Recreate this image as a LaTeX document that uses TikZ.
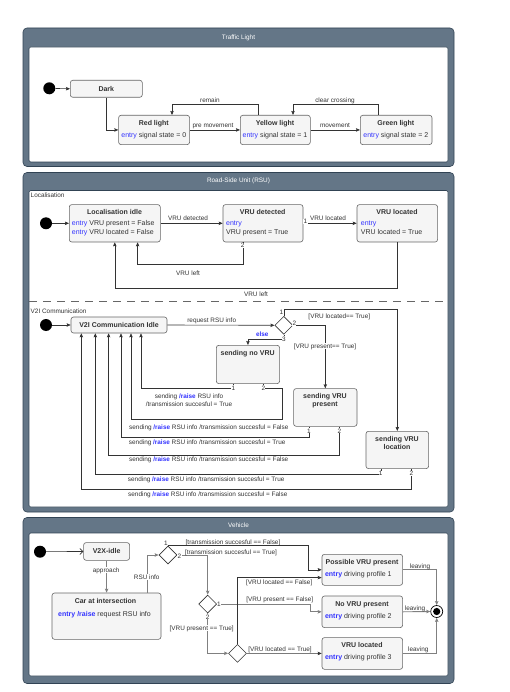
\documentclass[tikz,border=0pt]{standalone}
\usepackage{fontspec}
\setmainfont{Liberation Sans}
\usetikzlibrary{arrows.meta,shapes.geometric}
\definecolor{panel}{HTML}{647687}
\definecolor{panelline}{HTML}{314354}
\definecolor{boxfill}{HTML}{F5F5F5}
\definecolor{boxline}{HTML}{666666}
\definecolor{txtc}{HTML}{333333}
\definecolor{kwblue}{HTML}{3333FF}
\definecolor{lnc}{HTML}{333333}
\definecolor{lng}{HTML}{808080}
\newcommand\kwd[1]{\textcolor{kwblue}{#1}}
\newcommand\kwb[1]{\textcolor{kwblue}{\bfseries #1}}
\begin{document}
\begin{tikzpicture}[x=1pt,y=-1pt,
  stbox/.style={draw=boxline, fill=boxfill, rounded corners=2.5pt, line width=0.6pt, inner sep=0pt, anchor=north west},
  ttl/.style={font=\fontsize{7}{8}\selectfont\bfseries, text=txtc, inner sep=0pt, text height=5pt, text depth=0pt},
  body/.style={font=\fontsize{7}{8}\selectfont, text=txtc, inner sep=0pt, text height=5pt, text depth=0pt},
  lbl/.style={font=\fontsize{6.4}{7}\selectfont, text=txtc, inner sep=0pt, text height=4.6pt, text depth=0pt},
  wlbl/.style={lbl, fill=white, inner sep=0.6pt},
  port/.style={lbl, fill=white, inner sep=0.4pt},
  ptitle/.style={font=\fontsize{6.4}{7}\selectfont, text=white, inner sep=0pt, text height=4.6pt, text depth=0pt},
  conn/.style={draw=lnc, line width=0.6pt, -{Stealth[length=4pt,width=3.4pt,inset=0.6pt]}},
  gconn/.style={conn, draw=lng, line width=0.9pt},
  oconn/.style={draw=lnc, line width=0.6pt, -{Straight Barb[length=3pt,width=6pt]}},
  initst/.style={circle, fill=black, minimum size=12pt, inner sep=0pt},
  dmd/.style={diamond, draw=lnc, fill=white, line width=0.6pt, minimum width=18pt, minimum height=18pt, inner sep=0pt},
  finst/.style={circle, draw=black, fill=white, line width=0.7pt, minimum size=12pt, inner sep=0pt,
    path picture={\fill[black] (path picture bounding box.center) circle (3.6pt);}},
  outerp/.style={fill=panel, draw=panelline, line width=0.6pt, rounded corners=4pt},
  innerp/.style={fill=white, draw=panelline, line width=0.6pt, rounded corners=1.5pt},
  dashline/.style={draw=boxline, line width=0.7pt, dash pattern=on 8pt off 6pt}
]
\useasboundingbox (0,0) rectangle (509,692);
\fill[white] (0,0) rectangle (509,692);

% ================= Traffic Light =================
\draw[outerp] (23,28) rectangle (454,166.5);
\draw[innerp] (29,47) rectangle (448,162);
\node[ptitle] (tlt) at (238.5,37) {Traffic Light};
\node[initst] (i1) at (49.3,88.3) {};
\node[stbox, minimum width=72pt, minimum height=17pt] (dark) at (70,80) {};
\node[ttl] (darkt) at (dark.center) {Dark};
\node[stbox, minimum width=71pt, minimum height=29.3pt] (red) at (118.3,115) {};
\node[ttl] (redt) at (153.8,123.3) {Red light};
\node[body] (rede) at (153.8,135) {\kwd{entry} signal state = 0};
\node[stbox, minimum width=70pt, minimum height=29.3pt] (yel) at (240,115) {};
\node[ttl] (yelt) at (275,123.3) {Yellow light};
\node[body] (yele) at (275,135) {\kwd{entry} signal state = 1};
\node[stbox, minimum width=71.7pt, minimum height=29.3pt] (grn) at (360,115) {};
\node[ttl] (grnt) at (395.85,123.3) {Green light};
\node[body] (grne) at (395.85,135) {\kwd{entry} signal state = 2};

\draw[conn] (i1) -- (dark.west);
\draw[conn] (dark.south) |- (red.west);
\draw[conn] (red.east) -- (yel.west);
\draw[conn] (yel.east) -- (grn.west);
\draw[conn] ([xshift=-17.3pt]yel.north) -- ++(0,-11) -| ([xshift=17.9pt]red.north);
\draw[conn] ([xshift=-17.55pt]grn.north) -- ++(0,-11) -| ([xshift=17.7pt]yel.north);
\node[lbl] (lpm) at (213,125) {pre movement};
\node[lbl] (lmv) at (335,125) {movement};
\node[lbl] (lrm) at (210,100.5) {remain};
\node[lbl] (lcc) at (335,100.5) {clear crossing};

% ================= RSU =================
\draw[outerp] (23,172.5) rectangle (454,512);
\draw[innerp] (29,190.5) rectangle (448,507);
\node[ptitle] (rsut) at (238.5,180.5) {Road-Side Unit (RSU)};
\node[lbl, anchor=west] (loct) at (30.5,195.7) {Localisation};
\node[initst] (i2) at (46,223.3) {};
\node[stbox, minimum width=91pt, minimum height=37.4pt] (li) at (69,204.3) {};
\node[ttl] (lit) at (114.5,211.7) {Localisation idle};
\node[body, anchor=west] (lie1) at (71.7,222.7) {\kwd{entry} VRU present = False};
\node[body, anchor=west] (lie2) at (71.7,231.7) {\kwd{entry} VRU located = False};
\node[stbox, minimum width=80pt, minimum height=37.4pt] (vd) at (222.7,204.3) {};
\node[ttl] (vdt) at (262.7,211.7) {VRU detected};
\node[body, anchor=west] (vde1) at (226,222.7) {\kwd{entry}};
\node[body, anchor=west] (vde2) at (226,231.7) {VRU present = True};
\node[stbox, minimum width=80.6pt, minimum height=37.4pt] (vl) at (356.7,204.3) {};
\node[ttl] (vlt) at (397,211.7) {VRU located};
\node[body, anchor=west] (vle1) at (360.7,222.7) {\kwd{entry}};
\node[body, anchor=west] (vle2) at (360.7,231.7) {VRU located = True};

\draw[conn] (i2) -- (li.west);
\draw[conn] (li.east) -- (vd.west);
\draw[conn] (vd.east) -- (vl.west);
\draw[conn] ([xshift=-20pt]vd.south) -- ++(0,22.3) -| ([xshift=22.8pt]li.south);
\draw[conn] (vl.south) -- ++(0,45.6) -| (li.south);
\node[lbl] (lvdet) at (188,218.3) {VRU detected};
\node[lbl] (lvloc) at (328,218.3) {VRU located};
\node[port] (p1vd) at (305.5,221.5) {1};
\node[port] (p2vd) at (242.7,245.5) {2};
\node[lbl] (lvl1) at (188,273.3) {VRU left};
\node[lbl] (lvl2) at (256,294) {VRU left};

\draw[dashline] (29,301.7) -- (448,301.7);

% V2I
\node[lbl, anchor=west] (v2it) at (30.5,310.7) {V2I Communication};
\node[initst] (i3) at (46,325) {};
\node[stbox, minimum width=96pt, minimum height=16pt] (idle) at (70.7,316.7) {};
\node[ttl] (idlet) at (idle.center) {V2I Communication Idle};
\node[dmd] (dia) at (283.8,325.3) {};
\node[stbox, minimum width=63.3pt, minimum height=38.3pt] (snv) at (216,345) {};
\node[ttl] (snvt) at (247.65,353.3) {sending no VRU};
\node[stbox, minimum width=63.4pt, minimum height=37.7pt] (svp) at (293.3,388.3) {};
\node[ttl] (svpt1) at (325,396) {sending VRU};
\node[ttl] (svpt2) at (325,404.3) {present};
\node[stbox, minimum width=62.6pt, minimum height=37.3pt] (svl) at (365.7,431) {};
\node[ttl] (svlt1) at (397,439) {sending VRU};
\node[ttl] (svlt2) at (397,447.3) {location};

\draw[conn] (i3) -- (idle.west);
\draw[conn] (idle.east) -- (dia.west);
\draw[conn] (dia.north) -- ++(0,-6.3) -| (svl.north);
\draw[conn] (dia.east) -| (svp.north);
\draw[conn] (dia.south) -- ++(0,5) -| (snv.north);
\draw[conn] ([xshift=-14.35pt]snv.south) -- ++(0,4.4) -| ([xshift=22pt]idle.south);
\draw[conn] ([xshift=15.65pt]snv.south) -- ++(0,4.4) -- ++(18.4,0) -- ++(0,31.3) -| ([xshift=12pt]idle.south);
\draw[conn] ([xshift=-16pt]svp.south) -- ++(0,10.7) -| ([xshift=2pt]idle.south);
\draw[conn] ([xshift=14.3pt]svp.south) -- ++(0,28.3) -| ([xshift=-10.4pt]idle.south);
\draw[conn] ([xshift=-16.3pt]svl.south) -- ++(0,5) -| ([xshift=-23.7pt]idle.south);
\draw[conn] ([xshift=14.3pt]svl.south) -- ++(0,20.7) -| ([xshift=-37.7pt]idle.south);

\node[port] (pd1) at (281.3,311.7) {1};
\node[port] (pd2) at (294.3,323.6) {2};
\node[port] (pd3) at (283.8,339) {3};
\node[port] (ps1) at (233.3,387.7) {1};
\node[port] (ps2) at (263.3,387.7) {2};
\node[port] (pp1) at (309,430.7) {1};
\node[port] (pp2) at (339.3,430.7) {2};
\node[port] (pl1) at (380.7,473.3) {1};
\node[port] (pl2) at (411.3,473.3) {2};

\node[lbl] (lreq) at (211.7,320) {request RSU info};
\node[lbl] (lloc) at (339.3,315.7) {[VRU located== True]};
\node[wlbl] (lpres) at (325,345.7) {[VRU present== True]};
\node[lbl] (lelse) at (262.3,334.3) {\kwb{else}};
\node[lbl] (ls1a) at (189,395.7) {sending \kwb{/raise} RSU info};
\node[lbl] (ls1b) at (189,404.3) {/transmission succesful = True};
\node[lbl] (ls2) at (208.8,426.7) {sending \kwb{/raise} RSU info /transmission succesful = False};
\node[lbl] (lp1) at (207.2,441.7) {sending \kwb{/raise} RSU info /transmission succesful = True};
\node[lbl] (lp2) at (208.7,459) {sending \kwb{/raise} RSU info /transmission succesful = False};
\node[lbl] (ll1) at (206.2,479) {sending \kwb{/raise} RSU info /transmission succesful = True};
\node[lbl] (ll2) at (207.8,494) {sending \kwb{/raise} RSU info /transmission succesful = False};

% ================= Vehicle =================
\draw[outerp] (23,517.5) rectangle (454,683.5);
\draw[innerp] (29,533) rectangle (448,676);
\node[ptitle] (veht) at (238.5,525.5) {Vehicle};
\node[initst] (i4) at (40,551.7) {};
\node[stbox, minimum width=46pt, minimum height=17.7pt] (v2x) at (83.3,542.3) {};
\node[ttl] (v2xt) at (v2x.center) {V2X-idle};
\node[stbox, minimum width=109pt, minimum height=46.3pt] (car) at (51.7,592.7) {};
\node[ttl] (cart) at (105.5,600.7) {Car at intersection};
\node[body] (care) at (104.5,614.3) {\kwb{entry /raise} request RSU info};
\node[dmd] (d1) at (168,555) {};
\node[dmd] (d2) at (207.7,604) {};
\node[dmd] (d3) at (237.5,653.3) {};
\node[stbox, minimum width=80.6pt, minimum height=31pt] (pvp) at (321.7,554) {};
\node[ttl] (pvpt) at (362,561.7) {Possible VRU present};
\node[body] (pvpe) at (358.3,574.3) {\kwb{entry} driving profile 1};
\node[stbox, minimum width=80.6pt, minimum height=31.6pt] (nvp) at (321.7,595.7) {};
\node[ttl] (nvpt) at (362,603.7) {No VRU present};
\node[body] (nvpe) at (358.3,616) {\kwb{entry} driving profile 2};
\node[stbox, minimum width=80.6pt, minimum height=31.7pt] (vlv) at (321.7,637.3) {};
\node[ttl] (vlvt) at (362,645) {VRU located};
\node[body] (vlve) at (358.3,657.3) {\kwb{entry} driving profile 3};
\node[finst] (fin) at (436.7,611.5) {};

\draw[oconn] (i4) -- (v2x.west);
\draw[gconn] (v2x.south) -- (v2x.south |- car.north);
\draw[gconn] ([xshift=40.5pt]car.north) |- (d1.west);
\draw[conn] (d1.north) -- ++(140.3,0) |- (pvp.west);
\draw[gconn] (d1.east) -| (d2.north);
\draw[gconn] (d2.east) -- ++(93.3,0) |- (nvp.west);
\draw[gconn] (d2.south) |- (d3.west);
\draw[conn] (d3.north) |- ([yshift=-7.8pt]pvp.west);
\draw[conn] (d3.east) -- (vlv.west);
\draw[gconn] (pvp.east) -| (fin.north);
\draw[gconn] (nvp.east) -- (fin.west);
\draw[gconn] (vlv.east) -| (fin.south);

\node[wlbl] (lapp) at (106.2,570) {approach};
\node[wlbl] (lrsu) at (146.7,576.7) {RSU info};
\node[lbl] (pv1) at (166,543) {1};
\node[port] (pv2) at (179.5,556.5) {2};
\node[lbl] (ltf) at (233,541.7) {[transmission succesful == False]};
\node[lbl] (ltt) at (231,552.5) {[transmission succesful == True]};
\node[port] (pd21) at (218.8,604) {1};
\node[port] (pd22) at (207.7,616.7) {2};
\node[lbl] (lpf) at (279.7,599.3) {[VRU present == False]};
\node[wlbl] (lpt) at (201.7,627.7) {[VRU present == True]};
\node[lbl] (llf) at (279.2,582.3) {[VRU located == False]};
\node[lbl] (llt) at (280,649) {[VRU located == True]};
\node[lbl] (lv1) at (420,565.7) {leaving};
\node[lbl] (lv2) at (415,608.3) {leaving};
\node[lbl] (lv3) at (418.3,649) {leaving};
\end{tikzpicture}
\end{document}
